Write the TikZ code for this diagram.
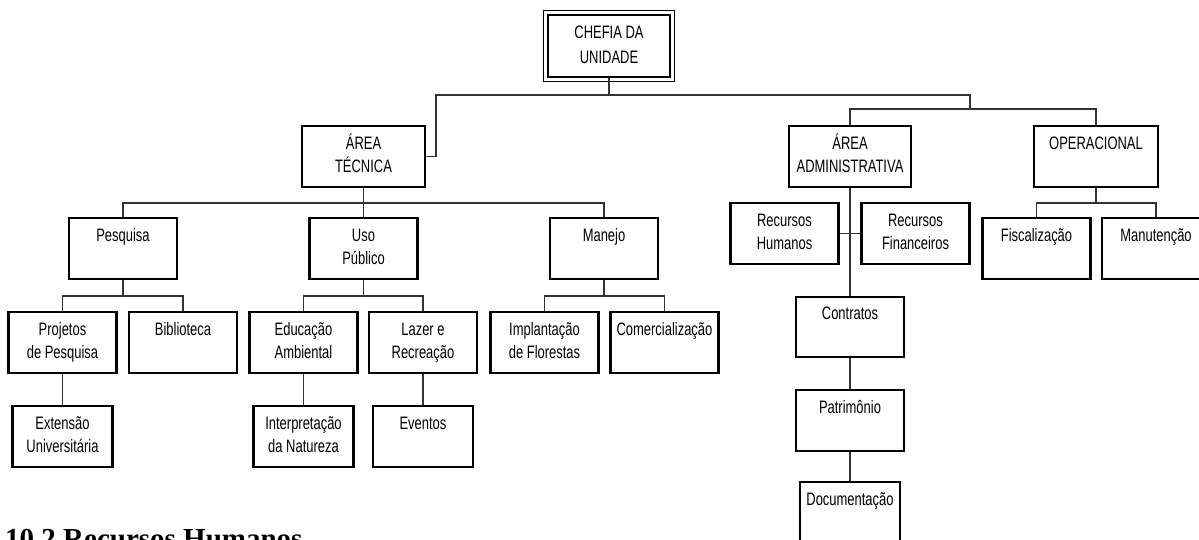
\documentclass[tikz,border=0pt]{standalone}
\usepackage{fontspec}
\setmainfont{Liberation Sans}[FakeStretch=0.72]
\newfontfamily\headfont{Liberation Serif}
\usetikzlibrary{calc}
\newcommand\tx[2]{\strut#1\\\strut#2}
\tikzset{
  box/.style={draw=black, line width=2.3pt, fill=white, inner sep=0pt, align=center,
    minimum width=108pt, minimum height=61pt, font=\fontsize{18}{23.5}\selectfont},
  smallbox/.style={box, minimum width=100pt},
  conn/.style={draw=black!80, line width=1.1pt}
}
\begin{document}
\begin{tikzpicture}[x=1pt,y=-1pt]
\useasboundingbox (0,0) rectangle (1199,540);
\clip (0,0) rectangle (1199,540);
% top
\node[box, minimum width=122pt, minimum height=62pt, font=\fontsize{18}{25}\selectfont] (chefia) at (609,46) {\tx{CHEFIA DA}{UNIDADE}};
\draw[line width=0.8pt] ([shift={(-3,3)}]chefia.south west) rectangle ([shift={(3,-3)}]chefia.north east);
% level 1
\node[box, minimum width=123pt] (areatec) at (363.5,156.5) {\tx{ÁREA}{TÉCNICA}};
\node[box, minimum width=122pt] (areaadm) at (850,156.5) {\tx{ÁREA}{ADMINISTRATIVA}};
\node[box, minimum width=124pt] (oper) at (1096,156.5) {\tx{OPERACIONAL}{}};
% level 2 tecnica
\node[box] (pesquisa) at (123,248.5) {\tx{Pesquisa}{}};
\node[box] (uso) at (363.5,248.5) {\tx{Uso}{Público}};
\node[box] (manejo) at (604,248.5) {\tx{Manejo}{}};
% level 3 tecnica
\node[box] (projetos) at (62.5,342.5) {\tx{Projetos}{de Pesquisa}};
\node[box] (biblioteca) at (183,342.5) {\tx{Biblioteca}{}};
\node[box] (educacao) at (303.5,342.5) {\tx{Educação}{Ambiental}};
\node[box] (lazer) at (423,342.5) {\tx{Lazer e}{Recreação}};
\node[box] (implantacao) at (544.5,342.5) {\tx{Implantação}{de Florestas}};
\node[box] (comercial) at (664.5,342.5) {\tx{Comercialização}{}};
% level 4 tecnica
\node[smallbox] (extensao) at (62.5,436.5) {\tx{Extensão}{Universitária}};
\node[smallbox] (interp) at (303.5,436.5) {\tx{Interpretação}{da Natureza}};
\node[smallbox] (eventos) at (423,436.5) {\tx{Eventos}{}};
% administrativa
\node[box] (rh) at (784.5,233.5) {\tx{Recursos}{Humanos}};
\node[box] (rf) at (915.5,233.5) {\tx{Recursos}{Financeiros}};
\node[box, minimum height=60pt] (contratos) at (850,327) {\tx{Contratos}{}};
\node[box] (patrimonio) at (850,420.5) {\tx{Patrimônio}{}};
\node[smallbox] (documentacao) at (850,512.5) {\tx{Documentação}{}};
% operacional
\node[box] (fiscal) at (1036.5,248.5) {\tx{Fiscalização}{}};
\node[box] (manut) at (1156,248.5) {\tx{Manutenção}{}};
% connectors
\coordinate (j1) at (436,95);
\coordinate (j2) at (970,95);
\coordinate (j3) at (970,109);
\draw[conn] (chefia.south) -- (chefia.south |- j1);
\draw[conn] (areatec.east) -| (j1) -- (j2) -- (j3);
\draw[conn] (areaadm.north) |- (j3) -| (oper.north);
\coordinate (t1) at (363.5,203);
\draw[conn] (areatec.south) -- (uso.north);
\draw[conn] (pesquisa.north) |- (t1) -| (manejo.north);
\coordinate (p1) at (123,296);
\draw[conn] (pesquisa.south) -- (p1);
\draw[conn] (projetos.north) |- (p1) -| (biblioteca.north);
\coordinate (u1) at (363.5,296);
\draw[conn] (uso.south) -- (u1);
\draw[conn] (educacao.north) |- (u1) -| (lazer.north);
\coordinate (m1) at (604,296);
\draw[conn] (manejo.south) -- (m1);
\draw[conn] (implantacao.north) |- (m1) -| (comercial.north);
\draw[conn] (projetos.south) -- (extensao.north);
\draw[conn] (educacao.south) -- (interp.north);
\draw[conn] (lazer.south) -- (eventos.north);
\draw[conn] (areaadm.south) -- (contratos.north);
\draw[conn] (rh.east) -- (rf.west);
\draw[conn] (contratos.south) -- (patrimonio.north);
\draw[conn] (patrimonio.south) -- (documentacao.north);
\coordinate (o1) at (1096,203);
\draw[conn] (oper.south) -- (o1);
\draw[conn] (fiscal.north) |- (o1) -| (manut.north);
% heading
\node[anchor=base west, inner sep=0pt, font=\headfont\bfseries\fontsize{29}{32}\selectfont] (head) at (5,548) {10.2 Recursos Humanos};
\end{tikzpicture}
\end{document}
